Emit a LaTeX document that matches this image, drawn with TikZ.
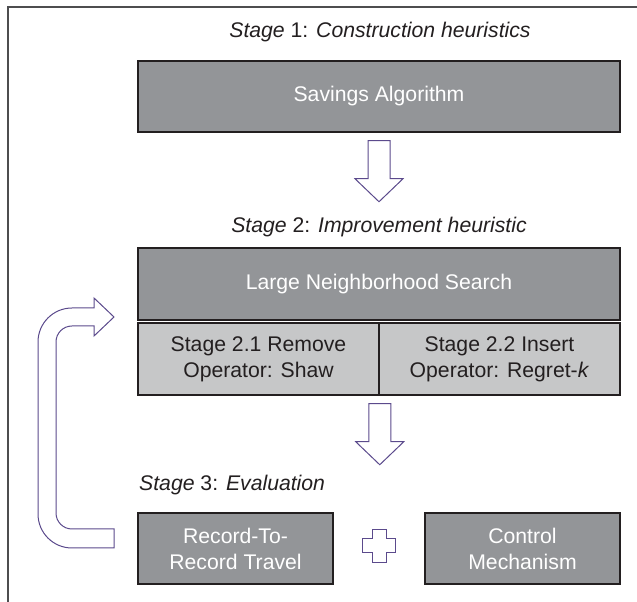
\documentclass[tikz,border=0pt]{standalone}
\usepackage{fontspec}
\setmainfont{Liberation Sans}
\usepackage{tikz}
\usetikzlibrary{calc}
\definecolor{BoxDark}{HTML}{939598}
\definecolor{BoxLight}{HTML}{C6C7C8}
\definecolor{Edge}{HTML}{231F20}
\definecolor{Frame}{HTML}{4D4D4F}
\definecolor{Outline}{HTML}{5B4A8C}

\tikzset{
  darkbox/.style={draw=Edge,line width=1.5pt,fill=BoxDark,text=white,inner sep=0pt,
    minimum height=71pt,align=center,font=\fontsize{21.2}{26}\selectfont},
  lightbox/.style={draw=Edge,line width=1.5pt,fill=BoxLight,text=Edge,inner sep=0pt,
    minimum width=241pt,minimum height=72pt,align=center,font=\fontsize{21.2}{26}\selectfont},
  stagelabel/.style={text=Edge,inner sep=0pt,font=\fontsize{21.2}{26}\selectfont},
  blockarrow/.style={draw=Outline,line width=1pt,fill=white,line join=miter}
}

\begin{document}
\begin{tikzpicture}[x=1pt,y=1pt]
\useasboundingbox (0,0) rectangle (637,602);

% frame (only top and left edge are in the picture)
\draw [Frame,line width=1.5pt] (8,0) -- (8,595) -- (637,595);

% stage 1
\node [stagelabel] (stage1) at (380,570) {\textit{Stage} 1: \textit{Construction heuristics}};
\node [darkbox,minimum width=482pt] (savings) at (379,505.5) {Savings Algorithm};
\draw [blockarrow] ($(savings.south)+(-11,-8)$) -- ++(22,0) -- ++(0,-38) -- ++(13,0)
  -- ++(-24,-23) -- ++(-24,23) -- ++(13,0) -- cycle;

% stage 2
\node [stagelabel] (stage2) at (379,375) {\textit{Stage} 2: \textit{Improvement heuristic}};
\node [darkbox,minimum width=482pt,minimum height=72pt] (lns) at (379,318) {Large Neighborhood Search};
\node [lightbox] (remove) at (258.5,243) {Stage 2.1 Remove\\Operator: Shaw};
\node [lightbox] (insert) at (499.5,243) {Stage 2.2 Insert\\Operator: Regret-\textit{k}};
\draw [blockarrow] ($(remove.south east)+(-11,-8)$) -- ++(22,0) -- ++(0,-38) -- ++(13,0)
  -- ++(-24,-23) -- ++(-24,23) -- ++(13,0) -- cycle;

% stage 3
\node [stagelabel,anchor=west] (stage3) at (139,117) {\textit{Stage} 3: \textit{Evaluation}};
\node [darkbox,minimum width=195pt] (rrt) at (235.5,53.5) {Record-To-\\Record Travel};
\node [darkbox,minimum width=195pt] (control) at (522.5,53.5) {Control\\Mechanism};
\coordinate (plus) at ($(rrt.east)!0.5!(control.west)+(0,2.5)$);
\draw [blockarrow] ($(plus)+(-7,16.5)$) -- ++(14,0) -- ++(0,-9.5) -- ++(9.5,0) -- ++(0,-14)
  -- ++(-9.5,0) -- ++(0,-9.5) -- ++(-14,0) -- ++(0,9.5) -- ++(-9.5,0) -- ++(0,14)
  -- ++(9.5,0) -- cycle;

% loop back from evaluation to the search
\draw [blockarrow] (114,54) -- (72,54) arc [start angle=270,end angle=180,radius=34]
  -- (38,260) arc [start angle=180,end angle=90,radius=34]
  -- (94,294) -- (94,304) -- (114,285) -- (94,266) -- (94,276)
  -- (72,276) arc [start angle=90,end angle=180,radius=16]
  -- (56,89) arc [start angle=180,end angle=270,radius=16]
  -- (114,73) -- cycle;
\end{tikzpicture}
\end{document}
